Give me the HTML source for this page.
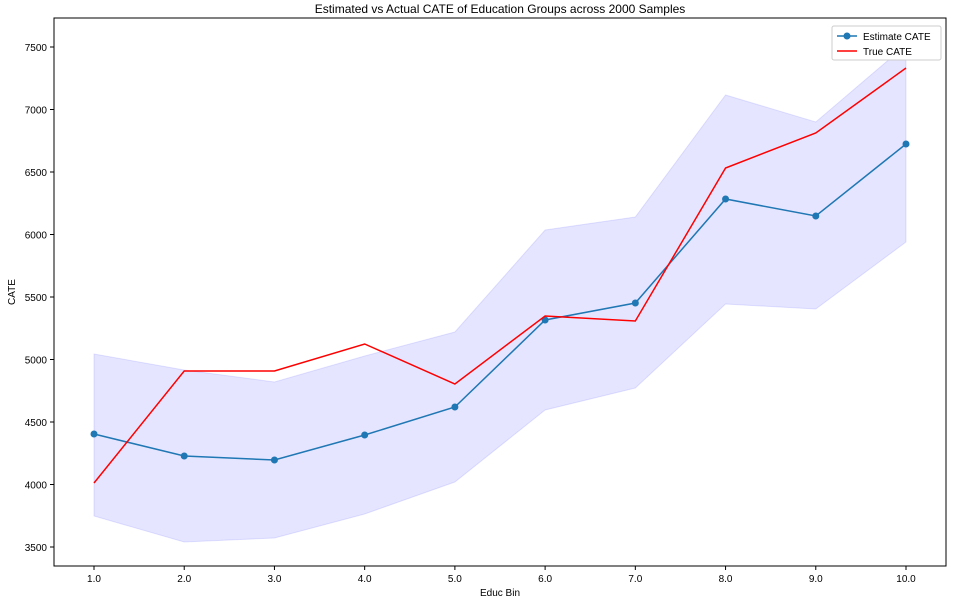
<!DOCTYPE html>
<html><head><meta charset="utf-8"><style>
body{margin:0;background:#fff;font-family:"Liberation Sans","DejaVu Sans",sans-serif}
text{font-family:"Liberation Sans","DejaVu Sans",sans-serif}
</style></head><body>
<svg id="chart" width="953" height="604"></svg>
<script>
const categories=[1,2,3,4,5,6,7,8,9,10];
const estimate=[4404,4228,4196,4396,4620,5316,5452,6284,6148,6724];
const trueCate=[4012,4908,4908,5124,4804,5348,5308,6532,6812,7332];
const upper=[5044,4916,4820,5028,5220,6036,6140,7116,6900,7516];
const lower=[3748,3540,3572,3764,4020,4596,4772,5444,5404,5940];
const yTicks=[3500,4000,4500,5000,5500,6000,6500,7000,7500];
const xTickLabels=["1.0","2.0","3.0","4.0","5.0","6.0","7.0","8.0","9.0","10.0"];

const NS="http://www.w3.org/2000/svg";
const svg=document.getElementById('chart');
const L=54,R=946,T=18,B=566;
const xs=v=>94+(v-1)*(906-94)/9;
const ys=v=>547-(v-3500)*(500/4000);
function el(t,a,p){const e=document.createElementNS(NS,t);for(const k in a)e.setAttribute(k,a[k]);(p||svg).appendChild(e);return e;}

// band
let pts=categories.map((c,i)=>xs(c)+","+ys(upper[i])).concat(categories.slice().reverse().map((c,j)=>{const i=categories.length-1-j;return xs(c)+","+ys(lower[i]);}));
const band=el('polygon',{points:pts.join(" "),fill:"#0000ff",'fill-opacity':0.1,stroke:"#0000ff",'stroke-opacity':0.1});



const est=el('polyline',{points:categories.map((c,i)=>xs(c)+","+ys(estimate[i])).join(" "),fill:"none",stroke:"#1f77b4",'stroke-width':1.5});


categories.forEach((c,i)=>{const d=el('circle',{cx:xs(c),cy:ys(estimate[i]),r:3.5,fill:"#1f77b4"});

});
const tr=el('polyline',{points:categories.map((c,i)=>xs(c)+","+ys(trueCate[i])).join(" "),fill:"none",stroke:"#ff0000",'stroke-width':1.5});



// frame
const fr=el('rect',{x:L,y:T,width:R-L,height:B-T,fill:"none",stroke:"#000",'stroke-width':1});



yTicks.forEach(v=>{const y=ys(v);el('line',{x1:L-4,x2:L,y1:y,y2:y,stroke:"#000"});
const t=el('text',{x:L-7,y:y+4,'text-anchor':'end','font-size':10});t.textContent=v;

});
categories.forEach((c,i)=>{const x=xs(c);el('line',{x1:x,x2:x,y1:B,y2:B+4,stroke:"#000"});
const t=el('text',{x:x,y:B+16,'text-anchor':'middle','font-size':10});t.textContent=xTickLabels[i];

});

let t=el('text',{x:500,y:596,'text-anchor':'middle','font-size':10});t.textContent="Educ Bin";


t=el('text',{x:15,y:292,'text-anchor':'middle','font-size':10,transform:'rotate(-90 15 292)'});t.textContent="CATE";


t=el('text',{x:500,y:13,'text-anchor':'middle','font-size':12});t.textContent="Estimated vs Actual CATE of Education Groups across 2000 Samples";



// legend
const g=el('g',{});


el('rect',{x:832,y:26,width:109,height:34,fill:"#fff",stroke:"#ccc",rx:2},g);
el('line',{x1:837,x2:857,y1:36,y2:36,stroke:"#1f77b4",'stroke-width':1.5},g);
el('circle',{cx:847,cy:36,r:3.5,fill:"#1f77b4"},g);
let lt=el('text',{x:863,y:40,'font-size':10},g);lt.textContent="Estimate CATE";


el('line',{x1:837,x2:857,y1:51,y2:51,stroke:"#ff0000",'stroke-width':1.5},g);
lt=el('text',{x:863,y:55,'font-size':10},g);lt.textContent="True CATE";


</script>
</body></html>
